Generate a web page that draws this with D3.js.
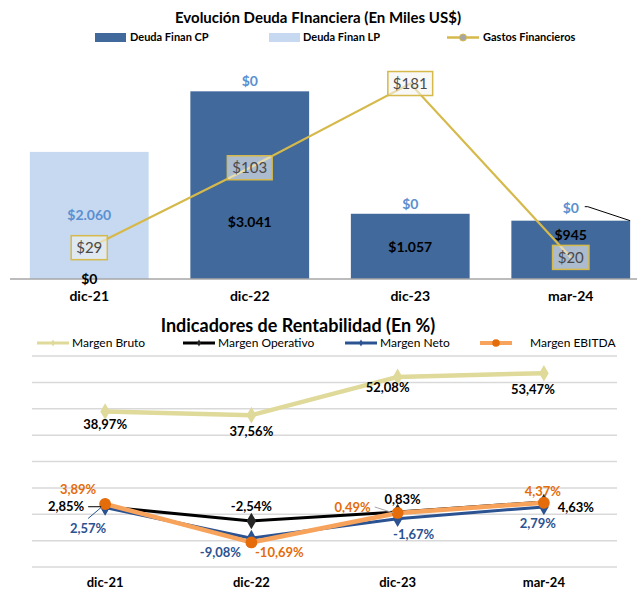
<!DOCTYPE html>
<html>
<head>
<meta charset="utf-8">
<script src="https://cdn.jsdelivr.net/npm/d3@7"></script>
<style>
  body { margin: 0; background: #fff; }
  svg { font-family: Lato, "Open Sans", sans-serif; display: block; }
</style>
</head>
<body>
<div id="chart"></div>
<script>
// data
const categories = ["dic-21", "dic-22", "dic-23", "mar-24"]
const deudaCP = [0, 3041, 1057, 945]
const deudaLP = [2060, 0, 0, 0]
const gastosFin = [29, 103, 181, 20]

const margenBruto = [38.97, 37.56, 52.08, 53.47]
const margenOperativo = [2.85, -2.54, 0.83, 4.63]
const margenNeto = [2.57, -9.08, -1.67, 2.79]
const margenEbitda = [3.89, -10.69, 0.49, 4.37]

const fmtMoney = v => "$" + d3.format(",")(v).replace(/,/g, ".")
const fmtPct = v => v.toFixed(2).replace(".", ",") + "%"

const width = 637, height = 590

const svg = d3.select("#chart").append("svg")
  .attr("width", width)
  .attr("height", height)

// ---------- top chart ----------
const area1 = {top: 63, bottom: 279, left: 9, right: 651}

svg.append("text")
  .attr("x", 318).attr("y", 18).attr("dy", "0.35em")
  .attr("text-anchor", "middle")
  .style("font-weight", "bold").style("font-size", "15px")
  .text("Evolución Deuda FInanciera (En Miles US$)")

let x = d3.scaleBand()
  .domain(categories)
  .range([area1.left, area1.right])
  .paddingInner(0.26)
  .paddingOuter(0.13)

let y = d3.scaleLinear().domain([0, 3500]).range([area1.bottom, area1.top])
let y2 = d3.scaleLinear().domain([0, 200]).range([area1.bottom, area1.top])

const colCP = "#41699b", colLP = "#c6d9f1", colGold = "#d6b94b", colLPText = "#5b8fd0"

const stacked = categories.map((c, i) => ({cat: c, cp: deudaCP[i], lp: deudaLP[i], g: gastosFin[i]}))

const g1 = svg.append("g")

g1.selectAll(".cp").data(stacked).enter().append("rect")
  .attr("class", "cp")
  .attr("x", d => x(d.cat))
  .attr("width", x.bandwidth())
  .attr("y", d => y(d.cp))
  .attr("height", d => y(0) - y(d.cp))
  .attr("fill", colCP)

g1.selectAll(".lp").data(stacked).enter().append("rect")
  .attr("class", "lp")
  .attr("x", d => x(d.cat))
  .attr("width", x.bandwidth())
  .attr("y", d => y(d.cp + d.lp))
  .attr("height", d => y(d.cp) - y(d.cp + d.lp))
  .attr("fill", colLP)

// axis line
g1.append("line")
  .attr("x1", 10).attr("x2", width)
  .attr("y1", y(0)).attr("y2", y(0))
  .attr("stroke", "#a6a6a6").attr("stroke-width", 1.5)

g1.selectAll(".cat").data(categories).enter().append("text")
  .attr("x", d => x(d) + x.bandwidth() / 2)
  .attr("y", 296).attr("dy", "0.35em")
  .attr("text-anchor", "middle")
  .style("font-weight", "bold").style("font-size", "14px")
  .text(d => d)

// bar labels (nudges copied from the manual placement in the source)
const cpNudge = [-1, 36, 0, -16]
g1.selectAll(".cpl").data(stacked).enter().append("text")
  .attr("x", d => x(d.cat) + x.bandwidth() / 2)
  .attr("y", (d, i) => y(d.cp / 2) + cpNudge[i] + 1)
  .attr("dy", "0.35em")
  .attr("text-anchor", "middle")
  .style("font-weight", "bold").style("font-size", "14px")
  .attr("fill", "#000")
  .text(d => fmtMoney(d.cp))

g1.selectAll(".lpl").data(stacked).enter().append("text")
  .attr("x", d => x(d.cat) + x.bandwidth() / 2)
  .attr("y", d => d.lp > 0 ? y(d.cp + d.lp / 2) : y(d.cp) - (d.cat === "mar-24" ? 13 : 10))
  .attr("dy", "0.35em")
  .attr("text-anchor", "middle")
  .style("font-weight", "bold").style("font-size", "14px")
  .attr("fill", colLPText)
  .text(d => fmtMoney(d.lp))

// leader for the last $0 label
const last = stacked[3]
g1.append("polyline")
  .attr("points", [
    [x(last.cat) + x.bandwidth() / 2 + 14, y(last.cp) - 14],
    [x(last.cat) + x.bandwidth() / 2 + 17, y(last.cp) - 14],
    [x(last.cat) + x.bandwidth(), y(last.cp)]
  ].map(p => p.join(",")).join(" "))
  .attr("fill", "none").attr("stroke", "#000").attr("stroke-width", 1)

// gastos line
const gLine = d3.line()
  .x(d => x(d.cat) + x.bandwidth() / 2)
  .y(d => y2(d.g))

g1.append("path")
  .datum(stacked)
  .attr("d", gLine)
  .attr("fill", "none")
  .attr("stroke", colGold)
  .attr("stroke-width", 2.2)

const gLab = g1.selectAll(".gl").data(stacked).enter().append("g")
  .attr("transform", d => "translate(" + (x(d.cat) + x.bandwidth() / 2) + "," + y2(d.g) + ")")

gLab.append("rect")
  .attr("class", "box")
  .attr("fill", "#f4f4f0").attr("fill-opacity", 0.6)
  .attr("stroke", colGold).attr("stroke-width", 1.5)

gLab.append("text")
  .attr("text-anchor", "middle").attr("dy", "0.35em")
  .style("font-size", "15px")
  .attr("fill", "#4a4a4a")
  .text(d => fmtMoney(d.g))

gLab.each(function () {
  const t = d3.select(this).select("text").node().getBBox()
  d3.select(this).select("rect")
    .attr("x", -t.width / 2 - 5).attr("width", t.width + 10)
    .attr("y", -12).attr("height", 24)
})

// top legend
const leg1 = svg.append("g").style("font-weight", "bold").style("font-size", "11px")
leg1.append("rect").attr("x", 95).attr("y", 33).attr("width", 31).attr("height", 9).attr("fill", colCP)
leg1.append("text").attr("x", 130).attr("y", 37.5).attr("dy", "0.35em").text("Deuda Finan CP")
leg1.append("rect").attr("x", 269).attr("y", 33).attr("width", 31).attr("height", 9).attr("fill", colLP)
leg1.append("text").attr("x", 303).attr("y", 37.5).attr("dy", "0.35em").text("Deuda Finan LP")
leg1.append("line").attr("x1", 447).attr("x2", 479).attr("y1", 37.5).attr("y2", 37.5)
  .attr("stroke", colGold).attr("stroke-width", 2.5)
leg1.append("circle").attr("cx", 463).attr("cy", 37.5).attr("r", 3.5)
  .attr("fill", "#a6a6a6").attr("stroke", colGold).attr("stroke-width", 1)
leg1.append("text").attr("x", 483).attr("y", 37.5).attr("dy", "0.35em").text("Gastos Financieros")

// ---------- bottom chart ----------
svg.append("text")
  .attr("x", 298).attr("y", 326).attr("dy", "0.35em")
  .attr("text-anchor", "middle")
  .style("font-weight", "bold").style("font-size", "18px")
  .text("Indicadores de Rentabilidad (En %)")

let xb = d3.scaleBand().domain(categories).range([32, 617])
let yb = d3.scaleLinear().domain([-20, 60]).range([567, 356])
const cx = c => xb(c) + xb.bandwidth() / 2

const g2 = svg.append("g")

g2.selectAll(".grid").data(yb.ticks(8)).enter().append("line")
  .attr("x1", 32).attr("x2", 617)
  .attr("y1", d => yb(d)).attr("y2", d => yb(d))
  .attr("stroke", "#d9d9d9").attr("stroke-width", 1.5)

g2.selectAll(".catb").data(categories).enter().append("text")
  .attr("x", d => cx(d)).attr("y", 582).attr("dy", "0.35em")
  .attr("text-anchor", "middle")
  .style("font-weight", "bold").style("font-size", "13px")
  .text(d => d)

const series = [
  {name: "Margen Bruto", vals: margenBruto, color: "#dfd99a", w: 4.5, marker: "diamond", mcolor: "#dfd99a", text: "#000",
   nudge: [[0, 13], [0, 16], [-10, 11], [-11, 16]], leader: []},
  {name: "Margen Operativo", vals: margenOperativo, color: "#000", w: 3, marker: "diamond", mcolor: "#262626", text: "#000",
   nudge: [[-39, 0], [0, -14], [5, -13], [32, 5]], leader: [0]},
  {name: "Margen Neto", vals: margenNeto, color: "#2b5291", w: 3, marker: "diamond", mcolor: "#2b5291", text: "#2b5291",
   nudge: [[-17, 21], [-31, 14], [16, 16], [-6, 17]], leader: [0]},
  {name: "Margen EBITDA", vals: margenEbitda, color: "#f7a35c", w: 4.5, marker: "circle", mcolor: "#e46c0a", text: "#e46c0a",
   nudge: [[-27, -15], [28, 10], [-45, -6], [-1, -11]], leader: [2]}
]

const pLine = d3.line().x(d => cx(d.c)).y(d => yb(d.v))

series.forEach(s => {
  const pts = categories.map((c, i) => ({c: c, v: s.vals[i]}))
  g2.append("path").datum(pts)
    .attr("d", pLine)
    .attr("fill", "none").attr("stroke", s.color).attr("stroke-width", s.w)
    .attr("stroke-linejoin", "round")
  g2.selectAll(null).data(pts).enter().append("path")
    .attr("d", d3.symbol().type(s.marker === "circle" ? d3.symbolCircle : d3.symbolDiamond).size(s.marker === "circle" ? 110 : 80))
    .attr("transform", d => "translate(" + cx(d.c) + "," + yb(d.v) + ")")
    .attr("fill", s.mcolor)
})

series.forEach(s => {
  const pts = categories.map((c, i) => ({c: c, v: s.vals[i], i: i}))
  s.leader.forEach(i => {
    const px = cx(categories[i]), py = yb(s.vals[i])
    const lx = px + s.nudge[i][0], ly = py + s.nudge[i][1]
    let sx = lx + 22, sy = ly
    if (s.name === "Margen Neto") { sx = lx; sy = ly - 10 }
    g2.append("line")
      .attr("x1", sx).attr("y1", sy).attr("x2", px - 4).attr("y2", py)
      .attr("stroke", s.name === "Margen EBITDA" ? "#a6a6a6" : s.color).attr("stroke-width", 1)
  })
  g2.selectAll(null).data(pts).enter().append("text")
    .attr("x", d => cx(d.c) + s.nudge[d.i][0])
    .attr("y", d => yb(d.v) + s.nudge[d.i][1])
    .attr("dy", "0.35em")
    .attr("text-anchor", "middle")
    .style("font-weight", "bold").style("font-size", "13px")
    .attr("fill", s.text)
    .text(d => fmtPct(d.v))
})

// bottom legend
const legPos = [[37, 72], [183, 218], [345, 380], [480, 530]]
const leg2 = svg.append("g").style("font-size", "12px")
series.forEach((s, i) => {
  const [lx, tx] = legPos[i]
  leg2.append("line").attr("x1", lx).attr("x2", lx + 32).attr("y1", 343).attr("y2", 343)
    .attr("stroke", s.color).attr("stroke-width", s.marker === "circle" ? 4 : 3)
  leg2.append("path")
    .attr("d", d3.symbol().type(s.marker === "circle" ? d3.symbolCircle : d3.symbolDiamond).size(s.marker === "circle" ? 45 : 14))
    .attr("transform", "translate(" + (lx + 16) + ",343)")
    .attr("fill", s.mcolor)
  leg2.append("text").attr("x", tx).attr("y", 343).attr("dy", "0.35em").attr("fill", "#000").text(s.name)
})
</script>
</body>
</html>
